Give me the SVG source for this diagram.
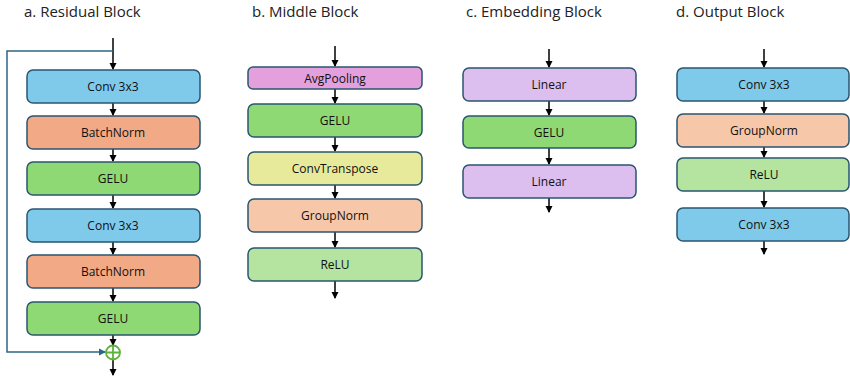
<svg xmlns="http://www.w3.org/2000/svg" width="850" height="377" viewBox="0 0 850 377">
<defs>
<marker id="ah" markerWidth="8" markerHeight="8" refX="6" refY="4" orient="auto" markerUnits="userSpaceOnUse">
<path d="M0,0.5 L7,4 L0,7.5 Z" fill="#000"/>
</marker>
<marker id="ahb" markerWidth="8" markerHeight="8" refX="6" refY="4" orient="auto" markerUnits="userSpaceOnUse">
<path d="M0,0.5 L7,4 L0,7.5 Z" fill="#2C6585"/>
</marker>
<style>
.box{stroke:#2A5670;stroke-width:1.5}
.lbl{font-family:"Open Sans","Liberation Sans",sans-serif;font-size:12px;text-anchor:middle;dominant-baseline:central;fill:#111}
.ttl{font-family:"Open Sans","Liberation Sans",sans-serif;font-size:15px;fill:#222}
.conv{fill:#7FCAEA}.bn{fill:#F2AA86}.gelu{fill:#8ED974}.avg{fill:#E3A0DD}.ct{fill:#E8EA9B}.gn{fill:#F7C7A9}.relu{fill:#B4E4A0}.lin{fill:#DCBEEF}
.ar{stroke:#000;stroke-width:1.5;fill:none;marker-end:url(#ah)}
</style>
</defs>
<text class="ttl" x="24" y="17">a. Residual Block</text>
<text class="ttl" x="252" y="17">b. Middle Block</text>
<text class="ttl" x="466" y="17">c. Embedding Block</text>
<text class="ttl" x="676" y="17">d. Output Block</text>

<g id="connectors">
<!-- residual -->
<path class="ar" d="M113,38 V69"/>
<path class="ar" d="M113,103 V115"/>
<path class="ar" d="M113,149 V161"/>
<path class="ar" d="M113,195 V208"/>
<path class="ar" d="M113,242 V254"/>
<path class="ar" d="M113,288 V301"/>
<path class="ar" d="M113,335 V345"/>
<path class="ar" d="M113,360 V375"/>
<path d="M113,51 H7 V352 H105" fill="none" stroke="#2C6585" stroke-width="1.5" marker-end="url(#ahb)"/>
<!-- middle -->
<path class="ar" d="M335,46 V66"/>
<path class="ar" d="M335,89 V103"/>
<path class="ar" d="M335,137 V151"/>
<path class="ar" d="M335,185 V198"/>
<path class="ar" d="M335,232 V247"/>
<path class="ar" d="M335,281 V298"/>
<!-- embedding -->
<path class="ar" d="M549,49 V67"/>
<path class="ar" d="M549,101 V115"/>
<path class="ar" d="M549,148 V164"/>
<path class="ar" d="M549,198 V212"/>
<!-- output -->
<path class="ar" d="M764,49 V67"/>
<path class="ar" d="M764,101 V113"/>
<path class="ar" d="M764,147 V157"/>
<path class="ar" d="M764,191 V207"/>
<path class="ar" d="M764,241 V254"/>
</g>

<g id="res_conv1"><rect class="box conv" x="27" y="70" width="173" height="33" rx="6"/><text class="lbl" x="113" y="86.5">Conv 3x3</text></g>
<g id="res_bn1"><rect class="box bn" x="27" y="116" width="173" height="33" rx="6"/><text class="lbl" x="113" y="132.5">BatchNorm</text></g>
<g id="res_gelu1"><rect class="box gelu" x="27" y="162" width="173" height="33" rx="6"/><text class="lbl" x="113" y="178.5">GELU</text></g>
<g id="res_conv2"><rect class="box conv" x="27" y="209" width="173" height="33" rx="6"/><text class="lbl" x="113" y="225.5">Conv 3x3</text></g>
<g id="res_bn2"><rect class="box bn" x="27" y="255" width="173" height="33" rx="6"/><text class="lbl" x="113" y="271.5">BatchNorm</text></g>
<g id="res_gelu2"><rect class="box gelu" x="27" y="302" width="173" height="33" rx="6"/><text class="lbl" x="113" y="318.5">GELU</text></g>
<g id="res_add"><circle cx="113" cy="352.5" r="7" fill="none" stroke="#5BB33A" stroke-width="1.8"/><path d="M106,352.5 H120 M113,345.5 V359.5" stroke="#5BB33A" stroke-width="1.8"/></g>

<g id="mid_avg"><rect class="box avg" x="248" y="67" width="174" height="22" rx="5"/><text class="lbl" x="335" y="78">AvgPooling</text></g>
<g id="mid_gelu"><rect class="box gelu" x="248" y="104" width="174" height="33" rx="6"/><text class="lbl" x="335" y="120.5">GELU</text></g>
<g id="mid_ct"><rect class="box ct" x="248" y="152" width="174" height="33" rx="6"/><text class="lbl" x="335" y="168.5">ConvTranspose</text></g>
<g id="mid_gn"><rect class="box gn" x="248" y="199" width="174" height="33" rx="6"/><text class="lbl" x="335" y="215.5">GroupNorm</text></g>
<g id="mid_relu"><rect class="box relu" x="248" y="248" width="174" height="33" rx="6"/><text class="lbl" x="335" y="264.5">ReLU</text></g>

<g id="emb_lin1"><rect class="box lin" x="463" y="68" width="173" height="33" rx="6"/><text class="lbl" x="549" y="84.5">Linear</text></g>
<g id="emb_gelu"><rect class="box gelu" x="463" y="116" width="173" height="32" rx="6"/><text class="lbl" x="549" y="132">GELU</text></g>
<g id="emb_lin2"><rect class="box lin" x="463" y="165" width="173" height="33" rx="6"/><text class="lbl" x="549" y="181.5">Linear</text></g>

<g id="out_conv1"><rect class="box conv" x="677" y="68" width="172" height="33" rx="6"/><text class="lbl" x="764" y="84.5">Conv 3x3</text></g>
<g id="out_gn"><rect class="box gn" x="677" y="114" width="172" height="33" rx="6"/><text class="lbl" x="764" y="130.5">GroupNorm</text></g>
<g id="out_relu"><rect class="box relu" x="677" y="158" width="172" height="33" rx="6"/><text class="lbl" x="764" y="174.5">ReLU</text></g>
<g id="out_conv2"><rect class="box conv" x="677" y="208" width="172" height="33" rx="6"/><text class="lbl" x="764" y="224.5">Conv 3x3</text></g>
</svg>
